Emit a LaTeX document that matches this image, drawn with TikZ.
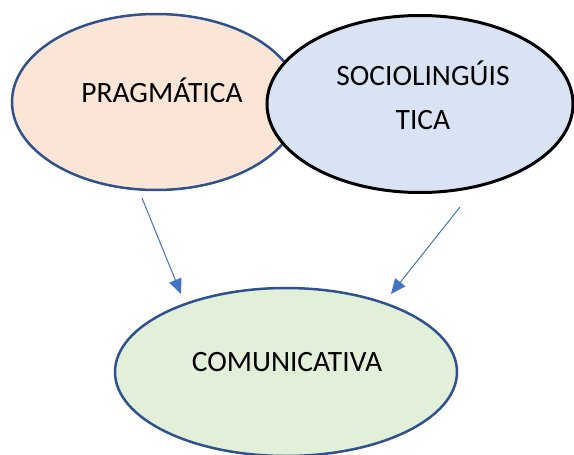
\documentclass[tikz,border=0pt]{standalone}
\usepackage{fontspec}
\setmainfont{Carlito}
\usetikzlibrary{shapes.geometric,arrows.meta}
\definecolor{peach}{HTML}{FBE5D6}
\definecolor{paleblue}{HTML}{DAE3F3}
\definecolor{palegreen}{HTML}{E2F0D9}
\definecolor{rim}{HTML}{2F528F}
\definecolor{arrowblue}{HTML}{4472C4}
\tikzset{
	bubble/.style={ellipse, inner sep=0pt, line width=2.5pt, draw=rim},
	word/.style={font=\fontsize{29.5}{44}\selectfont, inner sep=0pt},
	link/.style={arrowblue, line width=1pt, -{Triangle[length=15pt, width=13pt]}}
}
\begin{document}
\begin{tikzpicture}[x=1pt, y=-1pt]
	\useasboundingbox (0, 0) rectangle (574, 455);
	\node[bubble, fill=peach, minimum width=288pt, minimum height=176pt] (prag) at (156, 102) {};
	\node[bubble, fill=paleblue, draw=black, line width=3pt, minimum width=306pt, minimum height=177pt] (socio) at (420, 104) {};
	\node[bubble, fill=palegreen, minimum width=342pt, minimum height=168pt] (comu) at (286, 372) {};

	\node[word] (pragtext) at (162, 90) {PRAGMÁTICA};
	\node[word, align=center] (sociotext) at (423, 95) {SOCIOLINGÚIS\\TICA};
	\node[word] (comutext) at (287, 362) {COMUNICATIVA};

	\coordinate (p1) at (142, 198);
	\coordinate (p2) at (181, 294);
	\coordinate (s1) at (460, 207);
	\coordinate (s2) at (391, 294);
	\draw[link] (p1) -- (p2);
	\draw[link] (s1) -- (s2);
\end{tikzpicture}
\end{document}
